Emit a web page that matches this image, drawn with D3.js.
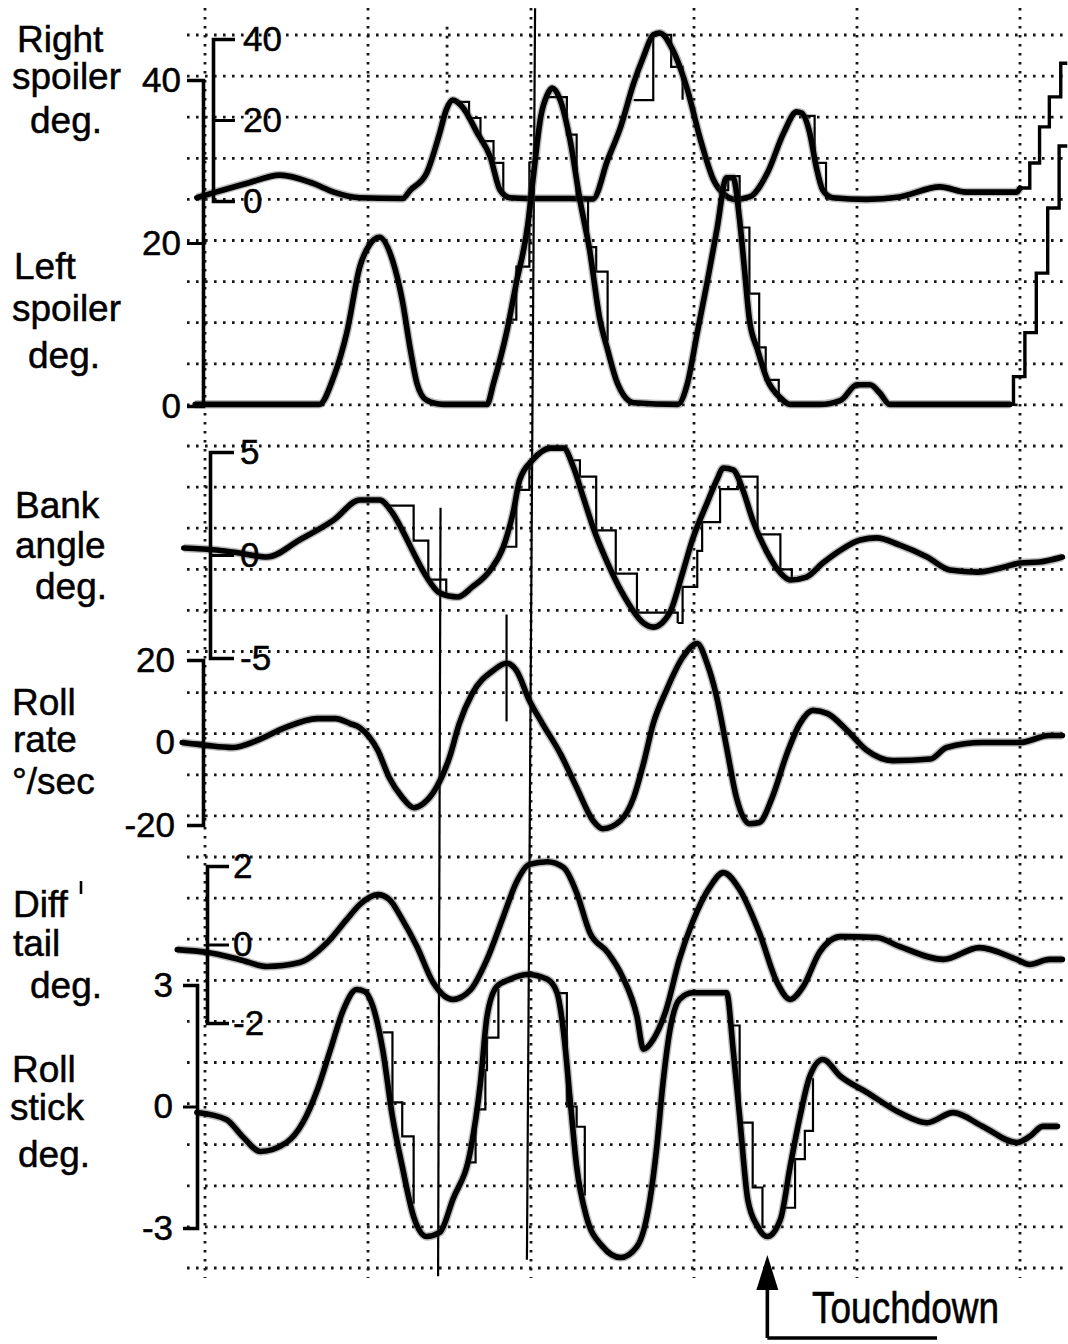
<!DOCTYPE html>
<html>
<head>
<meta charset="utf-8">
<script src="https://cdn.jsdelivr.net/npm/d3@7"></script>
<style>
  html, body { margin: 0; padding: 0; background: #fff; }
  svg { display: block; }
  text { font-family: "Liberation Sans", Arial, Helvetica, sans-serif; fill: #000; stroke: #000; stroke-width: 0.5px; }
</style>
</head>
<body>
<svg id="chart" width="1068" height="1344"></svg>
<script>
// ---- recorded traces: [time (s), value] ----
const rightSpoiler = [
  [-0.05,0.8],[0.05,2.0],[0.26,4.4],[0.46,6.4],[0.66,4.4],[0.79,2.2],[0.95,0.8],[1.21,0.6],
  [1.26,2.7],[1.36,6.9],[1.44,16.8],[1.48,22.5],[1.52,24.9],[1.58,23.2],[1.67,16.8],[1.75,10.9],
  [1.81,2.7],[1.87,0.8],[1.98,0.6],[2.24,0.6],[2.38,0.5],[2.47,10.1],[2.55,18.3],[2.63,29.1],
  [2.69,35.6],[2.75,41.0],[2.79,41.5],[2.87,37.3],[2.96,27.4],[3.04,15.1],[3.12,5.2],[3.19,1.5],
  [3.25,0.4],[3.34,1.0],[3.45,6.9],[3.55,16.8],[3.63,22.0],[3.66,21.7],[3.71,16.8],[3.75,8.4],
  [3.79,2.7],[3.85,0.8],[4.06,0.4],[4.26,1.0],[4.51,3.5],[4.67,2.2],[4.98,2.2],[5.00,3.2]
];
const rightSpoilerDeploy = [[5.00,3.2],[5.06,9.4],[5.12,18.3],[5.18,25.7],[5.25,34.0],[5.29,34.0]];
// sampled (held) command, drawn as thin steps
const rightSpoilerHeld = [
  [[1.55,24.5],[1.62,20.5],[1.69,14.8],[1.77,9.4],[1.83,1.0]],
  [[2.63,24.9],[2.75,41.0],[2.86,33.1],[2.93,25.0]],
  [[3.68,21.0],[3.74,9.4],[3.81,0.4]]
];

const leftSpoiler = [
  [-0.06,0.2],[0.70,0.2],[0.79,3.6],[0.87,9.0],[0.95,17.1],[1.01,19.8],[1.07,20.7],[1.15,17.9],
  [1.21,13.0],[1.26,6.9],[1.30,2.8],[1.36,0.7],[1.46,0.2],[1.73,0.2],[1.77,2.8],[1.85,9.0],
  [1.91,15.1],[1.98,22.2],[2.01,27.4],[2.06,35.5],[2.10,38.2],[2.13,39.0],[2.18,37.5],[2.24,32.6],
  [2.30,25.3],[2.36,19.1],[2.42,10.9],[2.47,6.9],[2.53,2.8],[2.63,0.4],[2.90,0.2],[2.96,2.8],
  [3.02,9.0],[3.08,15.1],[3.14,21.6],[3.20,28.0],[3.24,28.0],[3.28,22.8],[3.31,16.7],[3.34,10.6],
  [3.39,6.9],[3.45,3.2],[3.53,1.0],[3.59,0.2],[3.77,0.2],[3.90,0.7],[4.00,2.6],[4.08,2.6],
  [4.14,1.6],[4.20,0.2],[4.94,0.2]
];
const leftSpoilerDeploy = [[4.94,0.2],[4.96,3.6],[5.03,9.0],[5.10,16.3],[5.17,24.3],[5.24,31.9],[5.29,31.9]];
const leftSpoilerHeld = [
  [[1.85,10.6],[1.91,17.1],[1.99,30.0]],
  [[2.10,37.9],[2.22,33.3],[2.28,25.3],[2.35,19.5],[2.40,16.5],[2.47,8.0]],
  [[3.16,26.5],[3.21,28.2],[3.28,21.9],[3.34,13.8],[3.40,7.2],[3.44,3.2],[3.52,0.5]]
];

const bankAngle = [
  [-0.13,0.34],[0.07,0.24],[0.21,0.1],[0.38,-0.1],[0.58,0.73],[0.79,1.7],[0.95,2.67],[1.07,2.67],
  [1.15,2.04],[1.21,1.21],[1.28,0.1],[1.36,-1.07],[1.44,-1.84],[1.55,-2.04],[1.64,-1.55],[1.75,-0.73],
  [1.83,0.39],[1.89,2.04],[1.93,3.64],[2.01,4.61],[2.12,5.19],[2.20,5.19],[2.26,4.27],[2.32,2.82],
  [2.38,1.36],[2.47,-0.39],[2.56,-1.84],[2.69,-3.30],[2.75,-3.50],[2.85,-2.82],[2.93,-0.87],[2.99,0.73],
  [3.08,2.52],[3.14,3.64],[3.18,4.22],[3.24,4.13],[3.30,3.16],[3.36,1.70],[3.45,0.1],[3.53,-0.87],
  [3.59,-1.21],[3.69,-1.07],[3.79,-0.39],[3.90,0.24],[4.02,0.73],[4.12,0.83],[4.26,0.49],[4.43,-0.10],
  [4.57,-0.73],[4.74,-0.83],[4.88,-0.63],[5.00,-0.39],[5.12,-0.34],[5.26,-0.10]
];
const bankAngleHeld = [
  [[1.10,2.4],[1.28,0.7],[1.37,-1.2],[1.48,-2.0]],
  [[1.83,0.4],[1.91,3.16],[1.99,4.6]],
  [[2.26,4.6],[2.30,3.8],[2.40,1.2],[2.52,-0.9],[2.65,-2.8],[2.90,-3.3]],
  [[2.90,-3.3],[2.93,-1.55],[3.02,0.2],[3.05,1.6],[3.16,3.2],[3.27,3.8],[3.39,1.0],[3.53,-0.7],[3.60,-1.2]]
];

const rollRate = [
  [-0.14,0],[0.01,-0.7],[0.17,-1.2],[0.32,0.5],[0.48,3.4],[0.69,5.8],[0.80,5.8],[0.89,4.6],
  [0.95,3.6],[1.06,-1.9],[1.13,-8.5],[1.21,-13.3],[1.28,-15.8],[1.34,-14.8],[1.42,-10.9],[1.50,-3.6],
  [1.56,4.6],[1.64,11.9],[1.77,17.5],[1.85,19.2],[1.91,17.5],[1.99,10.2],[2.07,4.6],[2.18,-2.7],
  [2.28,-10.9],[2.38,-18.9],[2.44,-20.9],[2.55,-18.9],[2.63,-13.3],[2.69,-5.1],[2.75,4.6],[2.83,12.6],
  [2.93,20.6],[3.02,24.0],[3.08,19.2],[3.14,10.9],[3.20,-1.2],[3.26,-13.3],[3.34,-19.7],[3.40,-19.4],
  [3.48,-13.3],[3.57,-2.7],[3.65,4.6],[3.73,7.8],[3.82,7.0],[3.94,2.9],[4.06,-1.9],[4.22,-4.4],
  [4.45,-4.0],[4.55,-1.2],[4.77,0],[5.00,0],[5.18,1.7],[5.26,1.7]
];

const diffTail = [
  [-0.17,-0.13],[0.01,-0.20],[0.21,-0.38],[0.38,-0.56],[0.58,-0.46],[0.75,0.05],[0.87,0.64],[0.95,1.02],
  [1.06,1.27],[1.13,1.15],[1.21,0.64],[1.30,-0.05],[1.40,-0.97],[1.52,-1.40],[1.63,-1.15],[1.73,-0.38],
  [1.83,0.71],[1.91,1.58],[1.99,2.04],[2.10,2.11],[2.20,1.96],[2.28,1.32],[2.36,0.31],[2.47,-0.20],
  [2.56,-0.81],[2.65,-1.83],[2.69,-2.67],[2.75,-2.42],[2.83,-1.65],[2.91,-0.38],[2.99,0.56],[3.10,1.48],
  [3.18,1.83],[3.28,1.40],[3.40,0.31],[3.51,-0.97],[3.59,-1.40],[3.67,-1.07],[3.77,-0.20],[3.90,0.20],
  [4.12,0.18],[4.26,-0.05],[4.53,-0.38],[4.75,-0.08],[4.98,-0.38],[5.06,-0.51],[5.18,-0.38],[5.26,-0.38]
];

const rollStick = [
  [-0.05,-0.15],[0.13,-0.32],[0.23,-0.74],[0.34,-1.11],[0.50,-0.89],[0.60,-0.40],[0.69,0.42],[0.77,1.41],
  [0.85,2.40],[0.93,2.89],[0.98,2.84],[1.03,2.47],[1.09,1.41],[1.15,-0.25],[1.21,-1.48],[1.28,-2.72],
  [1.36,-3.21],[1.44,-3.11],[1.52,-2.30],[1.63,-1.06],[1.69,0.59],[1.73,2.22],[1.79,2.96],[1.87,3.14],
  [1.98,3.26],[2.10,3.14],[2.16,2.81],[2.20,1.83],[2.24,0.17],[2.28,-1.48],[2.34,-2.72],[2.44,-3.46],
  [2.55,-3.73],[2.65,-3.46],[2.73,-2.30],[2.77,-1.06],[2.81,0.59],[2.85,1.83],[2.91,2.64],[2.99,2.81],
  [3.20,2.81],[3.24,1.41],[3.28,-0.25],[3.33,-2.30],[3.39,-2.96],[3.45,-3.21],[3.53,-2.79],[3.59,-1.48],
  [3.65,-0.25],[3.71,0.74],[3.79,1.16],[3.90,0.74],[4.06,0.35],[4.26,-0.15],[4.43,-0.40],[4.59,-0.15],
  [4.77,-0.49],[4.98,-0.89],[5.06,-0.74],[5.14,-0.49],[5.23,-0.49]
];
const rollStickHeld = [
  [[1.09,1.83],[1.15,0.1],[1.21,-0.74],[1.28,-2.4]],
  [[1.60,-1.38],[1.66,-0.07],[1.72,0.9],[1.73,1.7],[1.80,2.9]],
  [[2.16,2.8],[2.22,0.0],[2.28,-0.5],[2.33,-2.2]],
  [[3.22,2.0],[3.28,-0.4],[3.36,-2.0],[3.42,-3.0]],
  [[3.55,-2.5],[3.62,-1.3],[3.68,-0.6],[3.73,0.7]]
];

// ---- scale ticks ----
const rightSpoilerTicks = [0, 20, 40];
const leftSpoilerTicks  = [0, 20, 40];
const bankTicks         = [-5, 0, 5];
const rollRateTicks     = [-20, 0, 20];
const diffTailTicks     = [-2, 0, 2];
const rollStickTicks    = [-3, 0, 3];
const timeGrid          = [0, 1, 2, 3, 4, 5];

// event marks on the recording: [time at top, time at bottom, first row, last row]
const eventMarks = [[2.025, 1.975, -0.65, 29.8], [1.445, 1.43, 11.5, 30.2], [1.85, 1.85, 14.1, 16.7]];
const touchdownTime = 3.45;

// ---- layout ----
const svg = d3.select("#chart");
const x = d3.scaleLinear().domain([0, 5]).range([205, 1020]);
const row = d3.scaleLinear().domain([0, 30]).range([35, 1268]);

const panels = [
  { data: rightSpoiler, held: rightSpoilerHeld, y: d3.scaleLinear([0, 40], [201, 39]), ticks: rightSpoilerTicks, side: "right", ax: 213, size: 22, pad: 8 },
  { data: leftSpoiler,  held: leftSpoilerHeld,  y: d3.scaleLinear([0, 40], [406, 80]), ticks: leftSpoilerTicks,  side: "left",  ax: 203, size: 16, pad: 6 },
  { data: bankAngle,    held: bankAngleHeld,    y: d3.scaleLinear([-5, 5], [658, 452]), ticks: bankTicks,        side: "right", ax: 210, size: 24, pad: 6 },
  { data: rollRate,     held: [],               y: d3.scaleLinear([-20, 20], [825, 660]), ticks: rollRateTicks,  side: "left",  ax: 203, size: 16, pad: 12 },
  { data: diffTail,     held: [],               y: d3.scaleLinear([-2, 2], [1023, 866]), ticks: diffTailTicks,   side: "right", ax: 207, size: 22, pad: 4 },
  { data: rollStick,    held: rollStickHeld,    y: d3.scaleLinear([-3, 3], [1228, 985]), ticks: rollStickTicks,  side: "left",  ax: 197, size: 14, pad: 10 }
];

// ---- chart-paper grid ----
const grid = svg.append("g");
const dotted = sel => sel.attr("stroke", "#161616").attr("stroke-width", 2.8)
  .attr("stroke-dasharray", "2.6 6.4").attr("fill", "none");
grid.selectAll("line.h").data(d3.range(31)).join("line").attr("class", "h")
  .attr("x1", 187).attr("x2", 1068)
  .attr("y1", d => row(d)).attr("y2", d => row(d)).call(dotted);
grid.selectAll("line.v").data(timeGrid).join("line").attr("class", "v")
  .attr("x1", d => x(d)).attr("x2", d => x(d))
  .attr("y1", 8).attr("y2", 1278).call(dotted);
grid.append("line").attr("x1", x(1.485)).attr("x2", x(1.485))
  .attr("y1", row(-0.2)).attr("y2", row(1.5)).call(dotted);

// ---- event marks ----
svg.append("g").selectAll("line").data(eventMarks).join("line")
  .attr("x1", d => x(d[0])).attr("x2", d => x(d[1]))
  .attr("y1", d => row(d[2])).attr("y2", d => row(d[3]))
  .attr("stroke", "#000").attr("stroke-width", 2.2);

// ---- traces ----
const traces = svg.append("g");
panels.forEach(p => {
  const line = d3.line().x(d => x(d[0])).y(d => p.y(d[1])).curve(d3.curveMonotoneX);
  const step = d3.line().x(d => x(d[0])).y(d => p.y(d[1])).curve(d3.curveStepAfter);
  traces.append("g").selectAll("path").data(p.held).join("path").attr("d", step)
    .attr("fill", "none").attr("stroke", "#000").attr("stroke-width", 2.2);
  traces.append("path").datum(p.data).attr("d", line)
    .attr("fill", "none").attr("stroke", "#444").attr("stroke-width", 8.5)
    .attr("stroke-opacity", 0.35).attr("stroke-linejoin", "round");
  traces.append("path").datum(p.data).attr("d", line)
    .attr("fill", "none").attr("stroke", "#000").attr("stroke-width", 5.6)
    .attr("stroke-linejoin", "round").attr("stroke-linecap", "round");
});
[[rightSpoilerDeploy, panels[0].y], [leftSpoilerDeploy, panels[1].y]].forEach(([data, yS]) => {
  traces.append("path").datum(data)
    .attr("d", d3.line().x(d => x(d[0])).y(d => yS(d[1])).curve(d3.curveStepAfter))
    .attr("fill", "none").attr("stroke", "#000").attr("stroke-width", 3.4);
});

// ---- axes ----
panels.forEach(p => {
  const axis = (p.side === "right" ? d3.axisRight(p.y) : d3.axisLeft(p.y))
    .tickValues(p.ticks).tickSize(p.size).tickSizeOuter(p.size).tickPadding(p.pad)
    .tickFormat(d => String(d));
  const g = svg.append("g").attr("transform", `translate(${p.ax},0)`).call(axis);
  g.select(".domain").attr("stroke", "#000").attr("stroke-width", 3.6).attr("fill", "none");
  g.selectAll(".tick line").attr("stroke", "#000").attr("stroke-width", 3);
  g.selectAll(".tick text")
    .style("font-family", "'Liberation Sans', Arial, sans-serif")
    .attr("font-size", 35).attr("fill", "#000");
});

// ---- parameter names ----
const names = [
  ["Right", 17, 52], ["spoiler", 12, 89], ["deg.", 30, 133],
  ["Left", 14, 279], ["spoiler", 12, 321], ["deg.", 28, 368],
  ["Bank", 15, 518], ["angle", 15, 558], ["deg.", 35, 599],
  ["Roll", 12, 715], ["rate", 13, 752], ["°/sec", 12, 794],
  ["Diff", 13, 917], ["tail", 13, 956], ["deg.", 30, 998],
  ["Roll", 12, 1082], ["stick", 10, 1120], ["deg.", 18, 1167]
];
svg.append("g").selectAll("text").data(names).join("text")
  .attr("x", d => d[1]).attr("y", d => d[2])
  .attr("font-size", 37).text(d => d[0]);
svg.append("line").attr("x1", 81).attr("x2", 81).attr("y1", 881).attr("y2", 894)
  .attr("stroke", "#000").attr("stroke-width", 2.6);

// ---- touchdown marker ----
const tx = x(touchdownTime);
const td = svg.append("g");
td.append("path").attr("d", `M${tx},1338 V1284 M${tx},1338 H937`)
  .attr("stroke", "#000").attr("stroke-width", 3.6).attr("fill", "none");
td.append("path").attr("d", `M${tx},1255 L${tx - 11},1290 L${tx + 11},1290 Z`).attr("fill", "#000");
td.append("text").attr("transform", "translate(812,1323) scale(1,1.18)")
  .attr("font-size", 37).text("Touchdown");
</script>
</body>
</html>
